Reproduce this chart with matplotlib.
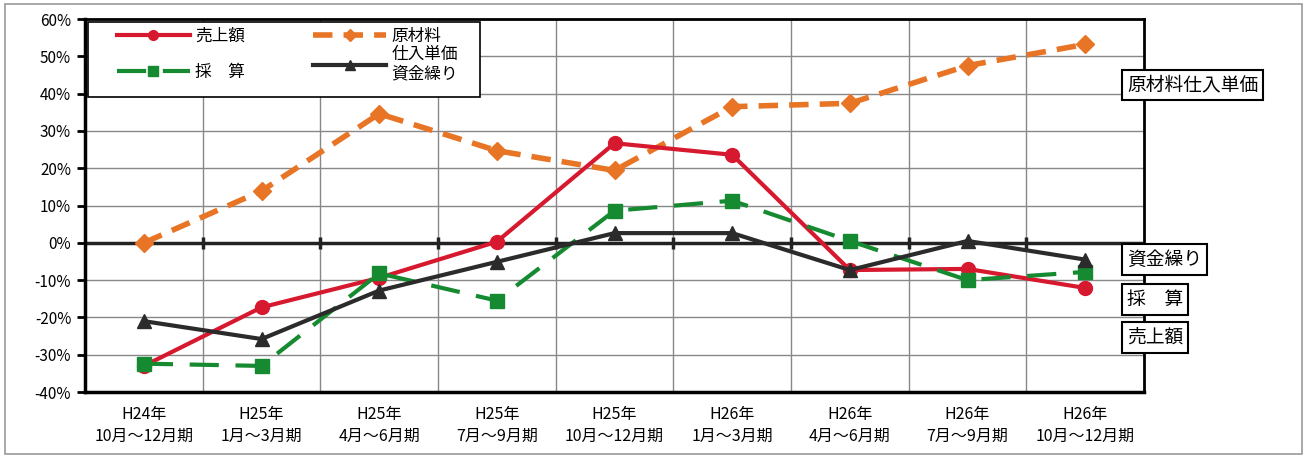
import matplotlib.pyplot as plt
from matplotlib.patches import Rectangle
import numpy as np

plt.rcParams['font.family'] = ['Noto Sans CJK JP', 'DejaVu Sans']

# 期間ラベル
periods = ["H24年\n10月～12月期", "H25年\n1月～3月期", "H25年\n4月～6月期",
           "H25年\n7月～9月期", "H25年\n10月～12月期", "H26年\n1月～3月期",
           "H26年\n4月～6月期", "H26年\n7月～9月期", "H26年\n10月～12月期"]

# DI値 (%)
uriage = [-33, -17.3, -9.4, 0.3, 26.7, 23.6, -7.3, -7.0, -12.1]      # 売上額
genzairyo = [0, 13.9, 34.6, 24.7, 19.4, 36.5, 37.4, 47.5, 53.2]      # 原材料仕入単価
saisan = [-32.4, -33, -8.2, -15.5, 8.6, 11.3, 0.5, -10, -7.8]        # 採算
shikinguri = [-21, -25.8, -12.8, -5.1, 2.6, 2.6, -7.3, 0.5, -4.5]    # 資金繰り

x = np.arange(len(periods))

fig = plt.figure(figsize=(13.1, 4.57), dpi=100)
ax = fig.add_axes([0.0649, 0.1422, 0.8084, 0.8162])

# 外枠
fig.patches.append(Rectangle((5/1310, 3/457), 1297/1310, 450/457, transform=fig.transFigure,
                             fill=False, edgecolor="#999999", lw=1.2))

ax.set_xlim(-0.5, len(periods) - 0.5)
ax.set_ylim(-40, 60)
ax.set_yticks(np.arange(-40, 61, 10))
ax.set_yticklabels([f"{v}%" for v in range(-40, 61, 10)], fontsize=11)
ax.set_xticks(x)
ax.set_xticklabels(periods, fontsize=11.5, linespacing=1.35)
ax.set_xticks(np.arange(0.5, len(periods) - 1, 1), minor=True)
ax.tick_params(axis="x", which="both", length=0, pad=10)
ax.tick_params(axis="y", length=6, width=2, direction="out", pad=4)
ax.grid(axis="y", color="#888888", lw=1)
ax.grid(axis="x", which="minor", color="#888888", lw=1)
ax.set_axisbelow(True)
for s in ax.spines.values():
    s.set_linewidth(2)
ax.spines["left"].set_linewidth(2.5)
ax.spines["bottom"].set_linewidth(2.5)

# 0%ライン
ax.axhline(0, color="#222222", lw=2.5, zorder=2)
ax.plot(np.arange(0.5, len(periods) - 1, 1), np.zeros(len(periods) - 1), ls="none",
        marker="|", ms=9, mew=2.5, color="#222222", zorder=2)

l1, = ax.plot(x, uriage, color="#d7192f", lw=3, marker="o", ms=10, zorder=4, label="売上額")
l2, = ax.plot(x, genzairyo, color="#e87425", lw=4, ls=(0, (3.5, 2)), marker="D", ms=9,
              zorder=3, label="原材料")
l3, = ax.plot(x, saisan, color="#168a30", lw=3, ls=(0, (7, 4)), marker="s", ms=10,
              zorder=5, label="採　算")
l4, = ax.plot(x, shikinguri, color="#2b2b2b", lw=3, marker="^", ms=10, zorder=6,
              label="仕入単価\n資金繰り")

# 凡例 (枠は別に描く)
ax.add_patch(Rectangle((0.003, 0.791), 0.370, 0.201, transform=ax.transAxes,
                       fc="white", ec="black", lw=1.2, zorder=9))
leg_kw = dict(loc="upper left", fontsize=12, frameon=False, handlelength=4.4,
              handletextpad=0.3, borderpad=0, borderaxespad=0, markerscale=0.7)
leg1 = ax.legend(handles=[l1, l3], bbox_to_anchor=(0.030, 0.977), labelspacing=1.15, **leg_kw)
leg1.set_zorder(10)
ax.add_artist(leg1)
leg2 = ax.legend(handles=[l2, l4], bbox_to_anchor=(0.2153, 0.977), labelspacing=0.1, **leg_kw)
leg2.set_zorder(10)

# 右側ラベル
box = dict(boxstyle="square,pad=0.25", fc="white", ec="black", lw=1.5)
for yv, txt in [(42.3, "原材料仕入単価"), (-4.5, "資金繰り"), (-15.2, "採　算"), (-25.4, "売上額")]:
    ax.text(1.0 - 0.016, yv, txt, transform=ax.get_yaxis_transform(), fontsize=13.5,
            va="center", ha="left", bbox=box, clip_on=False, zorder=10)

fig.savefig("out.png", dpi=100)
